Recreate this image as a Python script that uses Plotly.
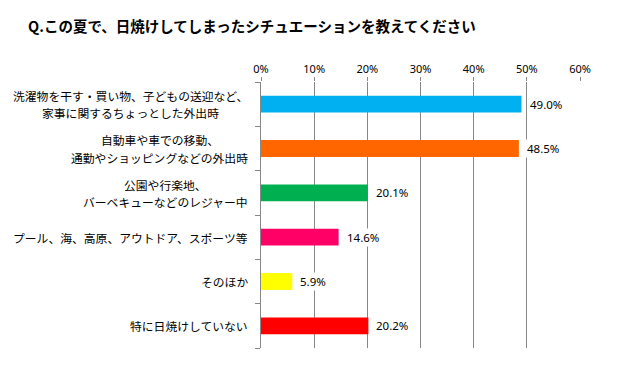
import plotly.graph_objects as go

categories = [
    "洗濯物を干す・買い物、子どもの送迎など、<br>家事に関するちょっとした外出時",
    "自動車や車での移動、<br>通勤やショッピングなどの外出時",
    "公園や行楽地、<br>バーベキューなどのレジャー中",
    "プール、海、高原、アウトドア、スポーツ等",
    "そのほか",
    "特に日焼けしていない",
]
values = [49.0, 48.5, 20.1, 14.6, 5.9, 20.2]
colors = ["#00B0F0", "#FF6600", "#00B050", "#FF0066", "#FFFF00", "#FF0000"]
x_ticks = [0, 10, 20, 30, 40, 50, 60]
x_tick_labels = ["0%", "10%", "20%", "30%", "40%", "50%", "60%"]
title_text = "Q.この夏で、日焼けしてしまったシチュエーションを教えてください"

CJK = "Noto Sans CJK JP"
LAT = "Noto Sans, Noto Sans CJK JP"

# page body has an 8px default margin; compensate
OFF = 8
W, H = 621 - OFF, 373 - OFF
CAT_FS = 11.8
LINE_GAP = 17.5

fig = go.Figure()
fig.add_trace(go.Bar(
    y=list(range(len(categories))),
    x=values,
    orientation="h",
    marker=dict(color=colors, line=dict(width=0)),
    width=0.38,
    hoverinfo="skip",
))

# data labels with white background
for i, v in enumerate(values):
    fig.add_annotation(
        x=v, y=i, xref="x", yref="y",
        text=f"{v:.1f}%", showarrow=False,
        xanchor="left", yanchor="middle", xshift=6,
        bgcolor="white", borderpad=1,
        font=dict(family=LAT, size=11.5, color="black"),
    )

# category labels: lines centred within a right-aligned block
for i, c in enumerate(categories):
    lines = c.split("<br>")
    block_w = max(len(l) for l in lines) * CAT_FS
    cx = -13 - block_w / 2
    n = len(lines)
    for k, line in enumerate(lines):
        dy = ((n - 1) / 2 - k) * LINE_GAP
        fig.add_annotation(
            x=0, y=i, xref="paper", yref="y",
            text=line, showarrow=False,
            xanchor="center", yanchor="middle",
            xshift=cx, yshift=dy,
            font=dict(family=CJK, size=CAT_FS, color="black"),
        )

fig.update_layout(
    width=W, height=H,
    margin=dict(l=261 - OFF, r=41, t=82 - OFF, b=25, autoexpand=False),
    paper_bgcolor="white", plot_bgcolor="white",
    showlegend=False,
    title=dict(
        text=title_text, xref="container", yref="container",
        x=(28 - OFF) / W, xanchor="left", y=1 - (27 - OFF) / H, yanchor="middle",
        font=dict(family=CJK, size=14.5, color="black", weight="bold"),
    ),
    xaxis=dict(
        side="top", range=[0, 60], tickvals=x_ticks, ticktext=x_tick_labels,
        showgrid=True, gridcolor="#878787", gridwidth=1,
        zeroline=False, showline=False,
        ticks="outside", ticklen=4, tickcolor="#878787",
        tickfont=dict(family=LAT, size=11, color="black"),
        fixedrange=True,
    ),
    yaxis=dict(
        range=[len(categories) - 0.5, -0.5],
        tickvals=[i - 0.5 for i in range(len(categories) + 1)],
        showticklabels=False,
        ticks="outside", ticklen=5, tickcolor="#878787",
        showline=True, linecolor="#878787", linewidth=1,
        showgrid=False, zeroline=False, fixedrange=True,
    ),
)

fig.write_html("out.html")
